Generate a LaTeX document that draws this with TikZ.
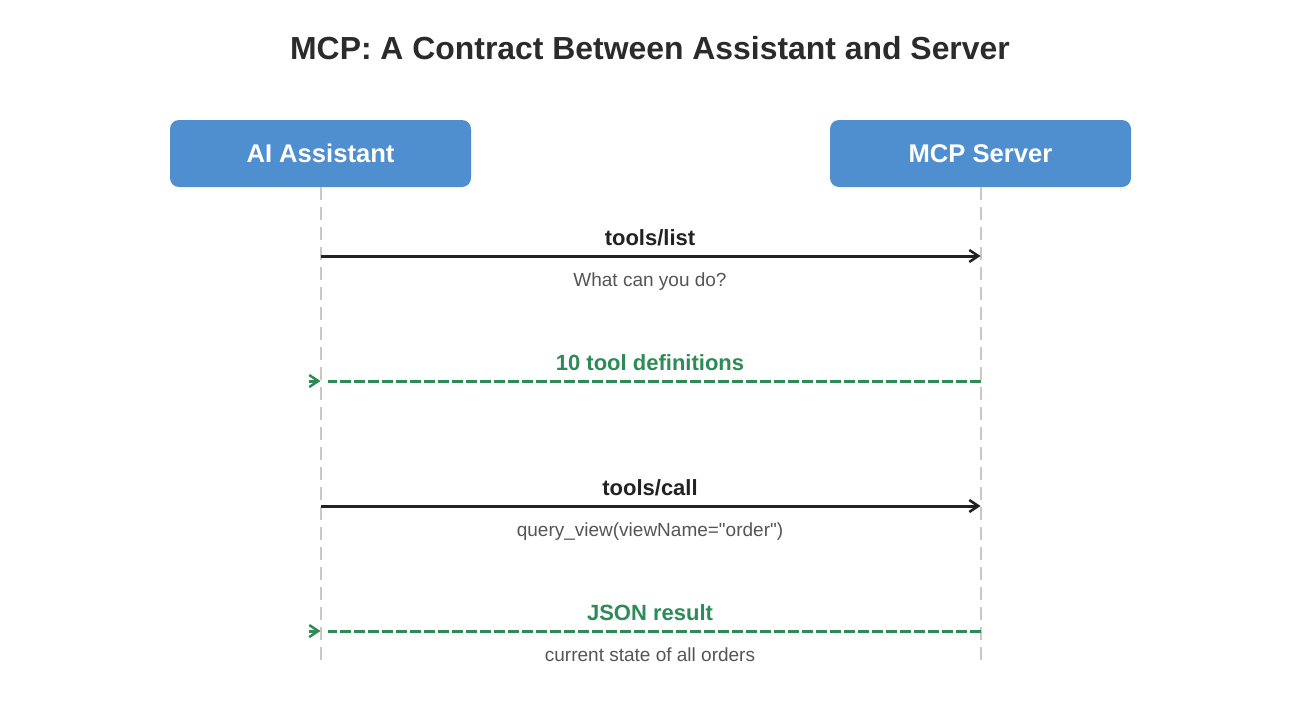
\documentclass[tikz,border=0pt]{standalone}
\usepackage{fontspec}
\setmainfont{Liberation Sans}
\newfontfamily\plainsans{Liberation Sans}
\usetikzlibrary{arrows.meta}
\definecolor{boxblue}{RGB}{79,143,208}
\definecolor{titlegray}{RGB}{43,43,43}
\definecolor{lblblack}{RGB}{34,34,34}
\definecolor{subgray}{RGB}{85,85,85}
\definecolor{lifegray}{RGB}{200,200,200}
\definecolor{retgreen}{RGB}{46,139,87}
\tikzset{
  actor/.style={fill=boxblue, text=white, rounded corners=9pt, minimum width=301pt, minimum height=67pt, inner sep=0pt, font=\bfseries\fontsize{25.6}{30}\selectfont},
  lifeline/.style={draw=lifegray, line width=2pt, dash pattern=on 13pt off 7pt},
  callmsg/.style={draw=lblblack, line width=3pt, -{Straight Barb[length=9pt,width=12pt,line width=2.5pt]}},
  retmsg/.style={draw=retgreen, line width=3pt, dash pattern=on 10.5pt off 3.5pt},
  rethead/.style={draw=retgreen, line width=3pt, -{Straight Barb[length=9pt,width=12pt,line width=2.5pt]}},
  calllbl/.style={anchor=base, text=lblblack, font=\bfseries\fontsize{22}{26}\selectfont, inner sep=0pt},
  retlbl/.style={anchor=base, text=retgreen, font=\bfseries\fontsize{22}{26}\selectfont, inner sep=0pt},
  sublbl/.style={anchor=base, text=subgray, font=\plainsans\fontsize{19}{23}\selectfont, inner sep=0pt},
  titlelbl/.style={anchor=base, text=titlegray, font=\bfseries\fontsize{31.9}{38}\selectfont, inner sep=0pt}
}
\begin{document}
\begin{tikzpicture}[x=1pt,y=-1pt]
\useasboundingbox[fill=white] (0,0) rectangle (1300,720);
\node[titlelbl] (title) at (650,59) {MCP: A Contract Between Assistant and Server};
\node[actor] (ast) at (320.5,153.5) {AI Assistant};
\node[actor] (srv) at (980.5,153.5) {MCP Server};
\coordinate (astEnd) at (320.5,660);
\coordinate (srvEnd) at (980.5,660);
\draw[lifeline] (ast.south) -- (astEnd);
\draw[lifeline] (srv.south) -- (srvEnd);
% message 1
\coordinate (a1) at (ast.south |- 0,256);
\coordinate (s1) at (srv.south |- 0,256);
\draw[callmsg] (a1) -- (s1);
\node[calllbl] (l1) at (650,245) {tools/list};
\node[sublbl] (d1) at (650,286) {What can you do?};
% message 2
\coordinate (a2) at (ast.south |- 0,381);
\coordinate (s2) at (srv.south |- 0,381);
\coordinate (h2) at ([xshift=-12pt]a2);
\draw[retmsg] (s2) -- ([xshift=7pt]a2);
\draw[rethead] (h2) -- (a2);
\node[retlbl] (l2) at (650,370) {10 tool definitions};
% message 3
\coordinate (a3) at (ast.south |- 0,506);
\coordinate (s3) at (srv.south |- 0,506);
\draw[callmsg] (a3) -- (s3);
\node[calllbl] (l3) at (650,495) {tools/call};
\node[sublbl] (d3) at (650,536) {query\_view(viewName="order")};
% message 4
\coordinate (a4) at (ast.south |- 0,631);
\coordinate (s4) at (srv.south |- 0,631);
\coordinate (h4) at ([xshift=-12pt]a4);
\draw[retmsg] (s4) -- ([xshift=7pt]a4);
\draw[rethead] (h4) -- (a4);
\node[retlbl] (l4) at (650,620) {JSON result};
\node[sublbl] (d4) at (650,661) {current state of all orders};
\end{tikzpicture}
\end{document}
